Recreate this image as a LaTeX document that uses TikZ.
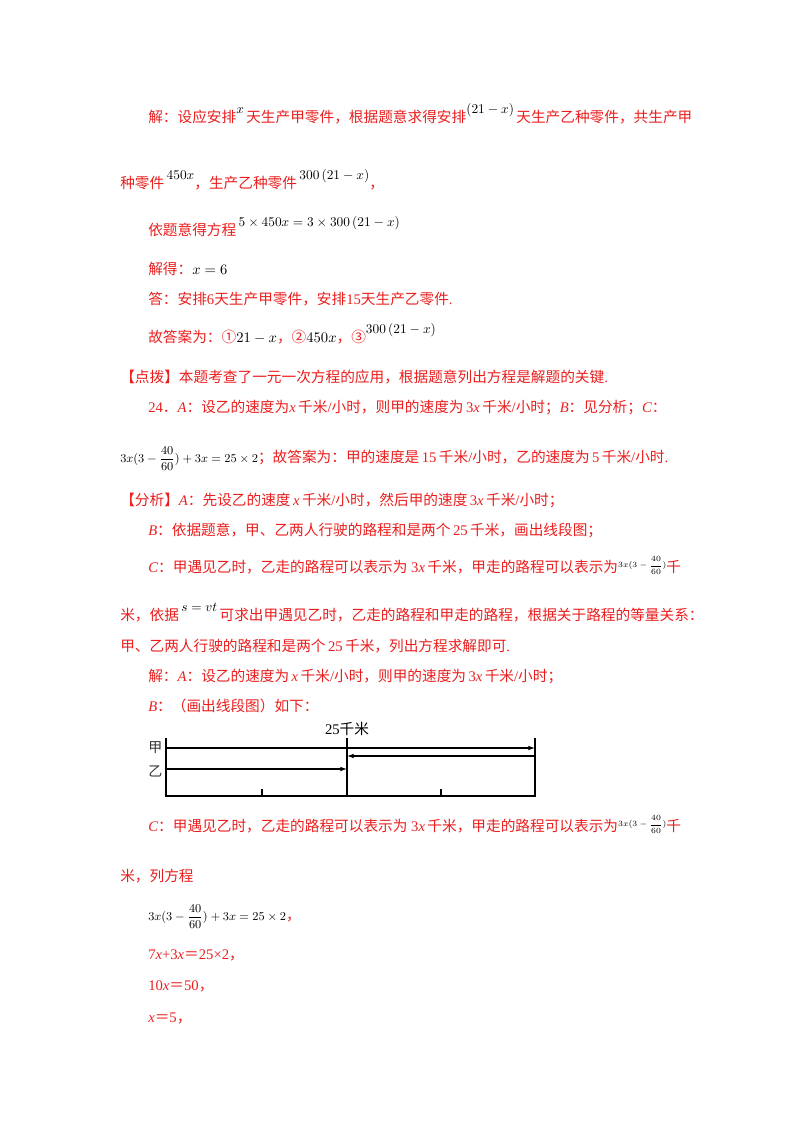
\documentclass[tikz,border=0pt]{standalone}
\usepackage{fontspec}
\usepackage{amsmath}
\setmainfont{Liberation Serif}
\newfontfamily\cjk{Noto Sans CJK SC}
\usetikzlibrary{arrows.meta}
\definecolor{ared}{RGB}{235,30,30}
\newcommand{\zh}[1]{{\cjk #1}}
\newcommand{\mr}[1]{\raisebox{1.2ex}{\color{black}\fontsize{10}{12}\selectfont$#1$}}
\newcommand{\mb}[1]{{\color{black}$#1$}}
\newcommand{\smallfr}{\raisebox{0.6ex}{\color{black}\fontsize{6.5}{8}\selectfont$3x(3-\dfrac{40}{60})$}}
\newcommand{\bigfr}{{\color{black}\fontsize{9.5}{12}\selectfont$3x(3-\dfrac{40}{60})+3x=25\times2$}}
\begin{document}
\begin{tikzpicture}[x=0.75pt,y=-0.75pt,
  txt/.style={anchor=base west,inner sep=0pt,text=ared,font=\fontsize{11}{13}\selectfont},
  ln/.style={line width=0.8pt},
  arr/.style={ln,-{Latex[length=5pt,width=3.5pt]}}]
\useasboundingbox (0,0) rectangle (800,1132);
\node[txt] (l1) at (148,122) {\zh{解：设应安排}\mr{x}\,\zh{天生产甲零件，根据题意求得安排}\mr{\left(21-x\right)}\,\zh{天生产乙种零件，共生产甲}};
\node[txt] (l2) at (120,188) {\zh{种零件}\,\mr{450x}\zh{，生产乙种零件}\,\mr{300\left(21-x\right)}\zh{，}};
\node[txt] (l3) at (148,235) {\zh{依题意得方程}\,\mr{5\times450x=3\times300\left(21-x\right)}};
\node[txt] (l4) at (148,274) {\zh{解得：}\mb{x=6}};
\node[txt] (l5) at (148,304) {\zh{答：安排}6\zh{天生产甲零件，安排}15\zh{天生产乙零件}.};
\node[txt] (l6) at (148,342) {\zh{故答案为：①}\mb{21-x}\zh{，②}\mb{450x}\zh{，③}\mr{300\left(21-x\right)}};
\node[txt] (l7) at (120,382) {\zh{【点拨】本题考查了一元一次方程的应用，根据题意列出方程是解题的关键}.};
\node[txt] (l8) at (148,412) {24\zh{．}\textit{A}\zh{：设乙的速度为}\textit{x}\,\zh{千米}/\zh{小时，则甲的速度为}\,3\textit{x}\,\zh{千米}/\zh{小时；}\textit{B}\zh{：见分析；}\textit{C}\zh{：}};
\node[txt] (l9) at (120,462) {\bigfr\zh{；故答案为：甲的速度是}\,15\,\zh{千米}/\zh{小时，乙的速度为}\,5\,\zh{千米}/\zh{小时}.};
\node[txt] (l10) at (120,505) {\zh{【分析】}\textit{A}\zh{：先设乙的速度}\,\textit{x}\,\zh{千米}/\zh{小时，然后甲的速度}\,3\textit{x}\,\zh{千米}/\zh{小时；}};
\node[txt] (l11) at (148,535) {\textit{B}\zh{：依据题意，甲、乙两人行驶的路程和是两个}\,25\,\zh{千米，画出线段图；}};
\node[txt] (l12) at (148,572) {\textit{C}\zh{：甲遇见乙时，乙走的路程可以表示为}\ 3\textit{x}\,\zh{千米，甲走的路程可以表示为}\smallfr\zh{千}};
\node[txt] (l13) at (120,620) {\zh{米，依据}\,\mr{s=vt}\,\zh{可求出甲遇见乙时，乙走的路程和甲走的路程，根据关于路程的等量关系：}};
\node[txt] (l14) at (120,651) {\zh{甲、乙两人行驶的路程和是两个}\,25\,\zh{千米，列出方程求解即可}.};
\node[txt] (l15) at (148,681) {\zh{解：}\textit{A}\zh{：设乙的速度为}\,\textit{x}\,\zh{千米}/\zh{小时，则甲的速度为}\,3\textit{x}\,\zh{千米}/\zh{小时；}};
\node[txt] (l16) at (148,711) {\textit{B}\zh{：（画出线段图）如下：}};
% diagram
\coordinate (tl) at (166,738); \coordinate (bl) at (166,796);
\coordinate (tm) at (347,738); \coordinate (bm) at (347,796);
\coordinate (tr) at (535,738); \coordinate (br) at (535,796);
\node[anchor=base,inner sep=0pt,font=\fontsize{11}{13}\selectfont] (lab) at (347,734) {25\zh{千米}};
\node[anchor=east,inner sep=1pt,font=\fontsize{10.5}{12}\cjk,text=black!80] (jia) at (164,748) {甲};
\node[anchor=east,inner sep=1pt,font=\fontsize{10.5}{12}\cjk,text=black!80] (yi) at (164,771) {乙};
\draw[ln] (tl) -- (bl) -- (br) -- (tr);
\draw[ln] (tm) -- (bm);
\coordinate (a1) at (166,748); \coordinate (a2) at (535,748);
\draw[arr] (a1) -- (a2);
\coordinate (b1) at (535,756); \coordinate (b2) at (347,756);
\draw[arr] (b1) -- (b2);
\coordinate (c1) at (166,769); \coordinate (c2) at (347,769);
\draw[arr] (c1) -- (c2);
\coordinate (t1) at (262,789); \coordinate (t1b) at (262,796);
\coordinate (t2) at (441,789); \coordinate (t2b) at (441,796);
\draw[ln] (t1) -- (t1b); \draw[ln] (t2) -- (t2b);
% bottom
\node[txt] (l17) at (148,831) {\textit{C}\zh{：甲遇见乙时，乙走的路程可以表示为}\ 3\textit{x}\,\zh{千米，甲走的路程可以表示为}\smallfr\zh{千}};
\node[txt] (l18) at (120,881) {\zh{米，列方程}};
\node[txt] (l19) at (148,920) {\bigfr\zh{，}};
\node[txt] (l20) at (148,959) {7\textit{x}+3\textit{x}\zh{＝}25×2\zh{，}};
\node[txt] (l21) at (148,990) {10\textit{x}\zh{＝}50\zh{，}};
\node[txt] (l22) at (148,1022) {\textit{x}\zh{＝}5\zh{，}};
\end{tikzpicture}
\end{document}
